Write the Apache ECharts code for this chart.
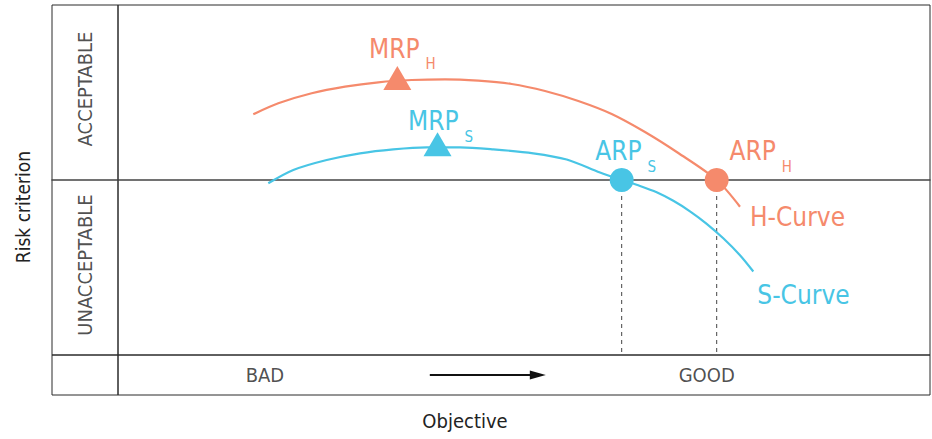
<!DOCTYPE html>
<html>
<head>
<meta charset="utf-8">
<script src="https://cdn.jsdelivr.net/npm/echarts@6/dist/echarts.min.js"></script>
<style>html,body{margin:0;padding:0;background:#fff;}#c{width:932px;height:439px;}</style>
</head>
<body>
<div id="c"></div>
<script>
// ---- data (objective: 0..100 across plot, risk: -50..50, 0 = acceptance threshold) ----
const hCurve = [[16.66,18.77],[19.74,21.91],[23.85,24.77],[27.96,26.66],[32.06,27.91],[36.17,28.57],[40.27,28.77],[44.37,28.37],[48.48,27.43],[52.59,25.43],[56.69,22.57],[60.80,18.86],[64.90,13.71],[69.00,7.71],[73.73,0],[76.60,-7.63]];
const sCurve = [[18.51,-0.94],[21.59,2.86],[25.70,5.71],[29.80,7.63],[33.90,8.77],[38.02,9.34],[42.12,9.34],[46.22,8.77],[51.14,7.63],[55.26,5.86],[59.36,2.14],[62.03,0],[64.29,-1.71],[66.34,-3.51],[68.39,-5.94],[70.44,-8.94],[72.50,-12.51],[74.54,-16.66],[76.60,-21.49],[78.24,-26.14]];
const mrpH = [34.4, 28.3];
const mrpS = [39.35, 9.34];
const arpS = [62.03, 0];
const arpH = [73.73, 0];
const riskFloor = -50;
const zoneLabels = [['ACCEPTABLE', 26], ['UNACCEPTABLE', -24.3]];
const objectiveLabels = [['BAD', 18.1], ['GOOD', 72.5]];
const arrowSpan = [38.4, 51.7];

const FONT = '"Liberation Sans Narrow", "DejaVu Sans Condensed", "Roboto Condensed", Roboto, sans-serif';
const HC = '#F58A6C', SC = '#48C5E5', INK = '#2b2b2b';

function sub(color) {
  return {
    m: {fontSize: 26, color: color, fontFamily: FONT, verticalAlign: 'bottom', padding: [0, 0, 10, 0]},
    s: {fontSize: 15, color: color, fontFamily: FONT, verticalAlign: 'bottom', padding: [0, 0, 0, 6]}
  };
}

const chart = echarts.init(document.getElementById('c'), null, {renderer: 'svg'});
const hidden = {show: false};
chart.setOption({
  animation: false,
  backgroundColor: '#fff',
  textStyle: {fontFamily: FONT},
  grid: [
    {left: 118, top: 5, right: 2, bottom: 84, show: true, borderColor: INK, borderWidth: 1},
    {left: 52, top: 5, width: 66, height: 350, show: true, borderColor: INK, borderWidth: 1},
    {left: 118, top: 355, right: 2, height: 40, show: true, borderColor: INK, borderWidth: 1},
    {left: 52, top: 355, width: 66, height: 40, show: true, borderColor: INK, borderWidth: 1}
  ],
  xAxis: [
    {gridIndex: 0, type: 'value', min: 0, max: 100, axisLine: {show: true, onZero: true, lineStyle: {color: '#444', width: 1.5}}, axisTick: hidden, axisLabel: hidden, splitLine: hidden},
    {gridIndex: 1, type: 'value', min: 0, max: 1, axisLine: {show: true, onZero: true, lineStyle: {color: '#444', width: 1.5}}, axisTick: hidden, axisLabel: hidden, splitLine: hidden},
    {gridIndex: 2, type: 'value', min: 0, max: 100, show: false},
    {gridIndex: 3, type: 'value', min: 0, max: 1, show: false}
  ],
  yAxis: [
    {gridIndex: 0, type: 'value', min: -50, max: 50, show: false},
    {gridIndex: 1, type: 'value', min: -50, max: 50, show: false},
    {gridIndex: 2, type: 'value', min: 0, max: 1, show: false},
    {gridIndex: 3, type: 'value', min: 0, max: 1, show: false}
  ],
  graphic: [
    {type: 'text', x: 23, y: 207, rotation: Math.PI / 2, style: {text: 'Risk criterion', fontSize: 19, fontFamily: FONT, fill: '#222', align: 'center', verticalAlign: 'middle'}},
    {type: 'text', x: 465, y: 421, style: {text: 'Objective', fontSize: 20, fontFamily: FONT, fill: '#222', align: 'center', verticalAlign: 'middle'}}
  ],
  series: [
    {type: 'line', name: 'dashS', xAxisIndex: 0, yAxisIndex: 0, data: [[arpS[0], 0], [arpS[0], riskFloor]], symbol: 'none', silent: true, lineStyle: {color: '#444', width: 1, type: [4, 4]}},
    {type: 'line', name: 'dashH', xAxisIndex: 0, yAxisIndex: 0, data: [[arpH[0], 0], [arpH[0], riskFloor]], symbol: 'none', silent: true, lineStyle: {color: '#444', width: 1, type: [4, 4]}},
    {type: 'line', name: 'H-Curve', xAxisIndex: 0, yAxisIndex: 0, data: hCurve, smooth: 0.3, symbol: 'none', silent: true,
      lineStyle: {color: HC, width: 2.2},
      endLabel: {show: true, formatter: 'H-Curve', color: HC, fontSize: 26, fontFamily: FONT, offset: [2, 10]}},
    {type: 'line', name: 'S-Curve', xAxisIndex: 0, yAxisIndex: 0, data: sCurve, smooth: 0.3, symbol: 'none', silent: true,
      lineStyle: {color: SC, width: 2.2},
      endLabel: {show: true, formatter: 'S-Curve', color: SC, fontSize: 26, fontFamily: FONT, offset: [-4, 24]}},
    {type: 'scatter', xAxisIndex: 0, yAxisIndex: 0, silent: true, z: 5,
      data: [
        {value: mrpH, symbol: 'triangle', symbolSize: [28, 24], symbolOffset: [0, -3], itemStyle: {color: HC, opacity: 1},
          label: {show: true, position: 'top', distance: 2, offset: [5, 8], formatter: '{m|MRP}{s|H}', rich: sub(HC)}},
        {value: mrpS, symbol: 'triangle', symbolSize: [28, 24], symbolOffset: [0, -3], itemStyle: {color: SC, opacity: 1},
          label: {show: true, position: 'top', distance: 2, offset: [3, 14], formatter: '{m|MRP}{s|S}', rich: sub(SC)}},
        {value: arpS, symbol: 'circle', symbolSize: 24, itemStyle: {color: SC, opacity: 1},
          label: {show: true, position: 'top', distance: 2, offset: [4, 8], formatter: '{m|ARP}{s|S}', rich: sub(SC)}},
        {value: arpH, symbol: 'circle', symbolSize: 24, itemStyle: {color: HC, opacity: 1},
          label: {show: true, position: 'top', distance: 2, offset: [44, 8], formatter: '{m|ARP}{s|H}', rich: sub(HC)}}
      ]},
    {type: 'scatter', xAxisIndex: 1, yAxisIndex: 1, silent: true, symbolSize: 0,
      data: zoneLabels.map(z => ({value: [0.5, z[1]], label: {show: true, position: 'inside', rotate: 90, formatter: z[0], fontSize: 20, fontFamily: FONT, color: '#222'}}))},
    {type: 'scatter', xAxisIndex: 2, yAxisIndex: 2, silent: true, symbolSize: 0,
      data: objectiveLabels.map(o => ({value: [o[1], 0.5], label: {show: true, position: 'inside', formatter: o[0], fontSize: 20, fontFamily: FONT, color: '#222'}})),
      markLine: {silent: true, symbol: ['none', 'triangle'], symbolSize: [9, 16], label: {show: false},
        lineStyle: {color: '#111', width: 2, type: 'solid'},
        data: [[{coord: [arrowSpan[0], 0.5]}, {coord: [arrowSpan[1], 0.5]}]]}}
  ]
});
</script>
</body>
</html>
